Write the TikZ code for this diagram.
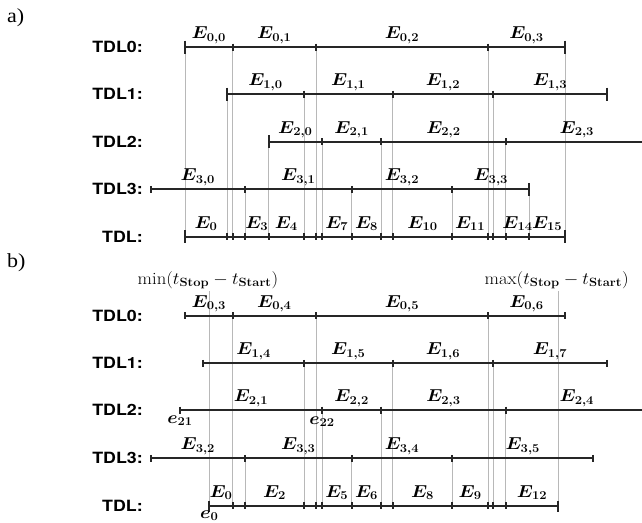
\documentclass[tikz,border=0pt]{standalone}
\usepackage{amsmath}
\usepackage{fontspec}
\usepackage{bm}
\newfontfamily\tdlfont{TeX Gyre Heros}
\newfontfamily\capfont{Liberation Serif}
\tikzset{
  axis/.style={line width=1.8pt,black!85},
  guide/.style={line width=0.9pt,black!28},
  mathlbl/.style={inner sep=0pt,font=\LARGE,xscale=1.08},
  elbl/.style={mathlbl,anchor=base,yshift=8.5pt},
  rowlbl/.style={inner sep=0pt,anchor=east,xscale=1.15,font=\tdlfont\bfseries\fontsize{15.5}{18}\selectfont},
  panel/.style={inner sep=0pt,anchor=west,xscale=1.1,font=\capfont\fontsize{20}{22}\selectfont}
}

\begin{document}
\begin{tikzpicture}[x=1pt,y=-1pt]
  \useasboundingbox (0,0) rectangle (642,522);
  \node[panel] (pa) at (7,17.5) {a)};
  \node[panel] (pb) at (7,262.5) {b)};

  \foreach \x/\y in {185/47,232.7/47,316/47,488/47,565/47,227/94,304/94,392.7/94,493.3/94,
      268.7/141.7,322/141.7,381.3/141.7,505.7/141.7,245/189.3,351.7/189.3,452.3/189.3,529.3/189.3}
    \draw[guide] (\x,\y) -- (\x,236.7);
  \foreach \y/\t [count=\i from 0] in {47/TDL0:,94/TDL1:,141.7/TDL2:,189.3/TDL3:,236.7/TDL:}
    \node[rowlbl] (ra\i) at (143,\y) {\t};
  \draw[axis] (185,47) -- (565,47);
  \draw[axis] (227,94) -- (606.7,94);
  \draw[axis] (268.7,141.7) -- (648,141.7);
  \draw[axis] (150.7,189.3) -- (529.3,189.3);
  \draw[axis] (185,236.7) -- (565,236.7);
  \foreach \x/\y in {232.7/47,316/47,488/47,304/94,392.7/94,493.3/94,322/141.7,381.3/141.7,505.7/141.7,
      150.7/189.3,245/189.3,351.7/189.3,452.3/189.3,227/236.7,232.7/236.7,245/236.7,268.7/236.7,
      304/236.7,316/236.7,322/236.7,351.7/236.7,381.3/236.7,392.7/236.7,452.3/236.7,488/236.7,
      493.3/236.7,505.7/236.7,529.3/236.7}
    \draw[axis] (\x,\y) ++(0,-3.5) -- ++(0,7);
  \foreach \x/\y in {185/47,565/47,227/94,606.7/94,268.7/141.7,529.3/189.3,185/236.7,565/236.7}
    \draw[axis] (\x,\y) ++(0,-6.5) -- ++(0,13);
  \foreach \a/\b/\y/\t [count=\i] in {185/232.7/47/{0,0},232.7/316/47/{0,1},316/488/47/{0,2},488/565/47/{0,3},
      227/304/94/{1,0},304/392.7/94/{1,1},392.7/493.3/94/{1,2},493.3/606.7/94/{1,3},
      268.7/322/141.7/{2,0},322/381.3/141.7/{2,1},381.3/505.7/141.7/{2,2},505.7/648/141.7/{2,3},
      150.7/245/189.3/{3,0},245/351.7/189.3/{3,1},351.7/452.3/189.3/{3,2},452.3/529.3/189.3/{3,3},
      185/227/236.7/0,245/268.7/236.7/3,268.7/304/236.7/4,322/351.7/236.7/7,351.7/381.3/236.7/8,
      392.7/452.3/236.7/10,452.3/488/236.7/11,505.7/529.3/236.7/14,529.3/565/236.7/15}
    \path (\a,\y) -- (\b,\y) node[midway,elbl] (ea\i) {$\bm{E_{\t}}$};

  \node[mathlbl,anchor=base] (tmin) at (208,284) {$\min(t_{\textbf{Stop}}-t_{\textbf{Start}})$};
  \node[mathlbl,anchor=base] (tmax) at (556.7,284) {$\max(t_{\textbf{Stop}}-t_{\textbf{Start}})$};
  \draw[guide] (209.3,291) -- (209.3,505.7);
  \draw[guide] (558.3,291) -- (558.3,505.7);
  \foreach \x/\y in {232.7/315.7,316/315.7,488/315.7,304/363.3,392.7/363.3,493.3/363.3,
      322/410,381.3/410,505.7/410,245/458.3,351.7/458.3,452.3/458.3}
    \draw[guide] (\x,\y) -- (\x,505.7);
  \foreach \y/\t [count=\i from 0] in {315.7/TDL0:,363.3/TDL1:,410/TDL2:,458.3/TDL3:,505.7/TDL:}
    \node[rowlbl] (rb\i) at (143,\y) {\t};
  \draw[axis] (185,315.7) -- (565,315.7);
  \draw[axis] (203.3,363.3) -- (606.7,363.3);
  \draw[axis] (180,410) -- (648,410);
  \draw[axis] (150.7,458.3) -- (593.3,458.3);
  \draw[axis] (209.3,505.7) -- (558.3,505.7);
  \foreach \x/\y in {185/315.7,232.7/315.7,316/315.7,488/315.7,565/315.7,
      203.3/363.3,304/363.3,392.7/363.3,493.3/363.3,606.7/363.3,
      180/410,322/410,381.3/410,505.7/410,150.7/458.3,245/458.3,351.7/458.3,452.3/458.3,593.3/458.3,
      232.7/505.7,245/505.7,304/505.7,316/505.7,322/505.7,351.7/505.7,381.3/505.7,392.7/505.7,
      452.3/505.7,488/505.7,493.3/505.7,505.7/505.7}
    \draw[axis] (\x,\y) ++(0,-3.5) -- ++(0,7);
  \foreach \x in {209.3,558.3}
    \draw[axis] (\x,505.7) ++(0,-5) -- ++(0,11);
  \foreach \a/\b/\y/\t [count=\i] in {185/232.7/315.7/{0,3},232.7/316/315.7/{0,4},316/488/315.7/{0,5},488/565/315.7/{0,6},
      203.3/304/363.3/{1,4},304/392.7/363.3/{1,5},392.7/493.3/363.3/{1,6},493.3/606.7/363.3/{1,7},
      180/322/410/{2,1},322/381.3/410/{2,2},381.3/505.7/410/{2,3},505.7/648/410/{2,4},
      150.7/245/458.3/{3,2},245/351.7/458.3/{3,3},351.7/452.3/458.3/{3,4},452.3/593.3/458.3/{3,5},
      209.3/232.7/505.7/0,245/304/505.7/2,322/351.7/505.7/5,351.7/381.3/505.7/6,
      392.7/452.3/505.7/8,452.3/488/505.7/9,505.7/558.3/505.7/12}
    \path (\a,\y) -- (\b,\y) node[midway,elbl] (eb\i) {$\bm{E_{\t}}$};
  \node[mathlbl,anchor=base] (e21) at (180,423) {$\bm{e_{21}}$};
  \node[mathlbl,anchor=base] (e22) at (322,424) {$\bm{e_{22}}$};
  \node[mathlbl,anchor=base] (e0) at (209.3,518) {$\bm{e_{0}}$};
\end{tikzpicture}
\end{document}
